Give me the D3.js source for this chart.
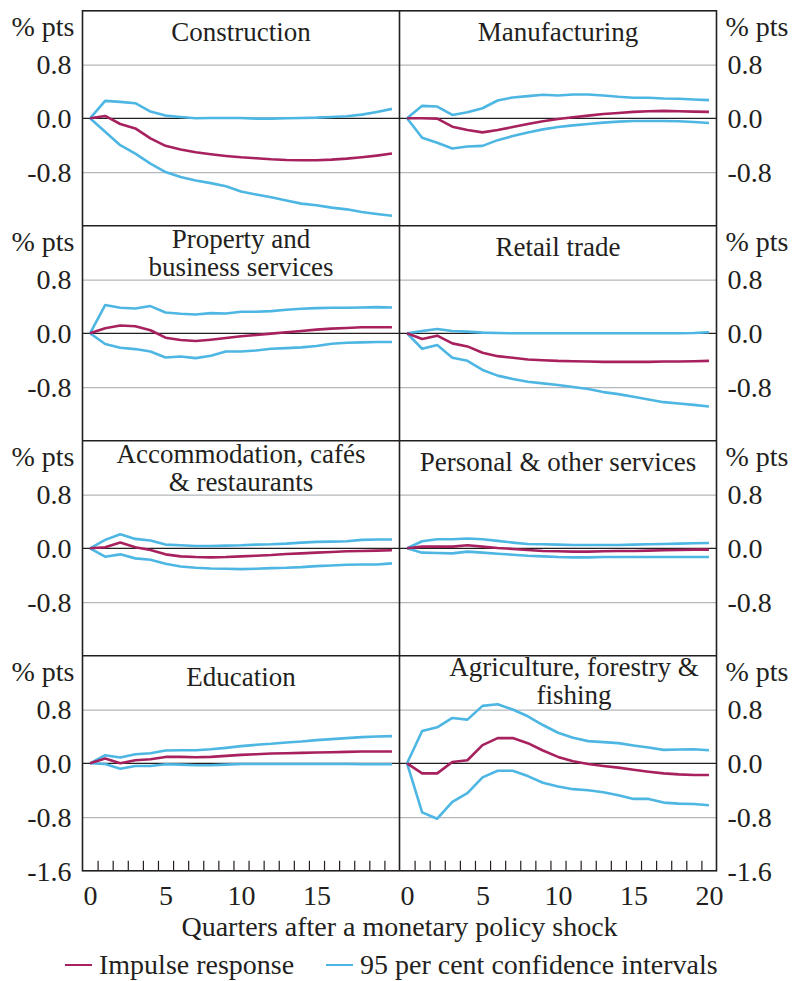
<!DOCTYPE html>
<html>
<head>
<meta charset="utf-8">
<script src="https://cdn.jsdelivr.net/npm/d3@7"></script>
<style>
  body { margin: 0; background: #fff; }
  text { font-family: "Liberation Serif", "Times New Roman", serif; fill: #231f20; }
  .axis .domain { display: none; }
</style>
</head>
<body>
<svg id="chart"></svg>
<script>
// quarters after the shock
const quarters = [0, 1, 2, 3, 4, 5, 6, 7, 8, 9, 10, 11, 12, 13, 14, 15, 16, 17, 18, 19, 20];

const constructionResp = [0, 0.035, -0.085, -0.15, -0.3, -0.41, -0.465, -0.505, -0.535, -0.56, -0.58, -0.595, -0.61, -0.62, -0.625, -0.625, -0.615, -0.6, -0.58, -0.555, -0.525];
const constructionLow = [0, -0.2, -0.4, -0.525, -0.675, -0.8, -0.875, -0.925, -0.965, -1.01, -1.09, -1.135, -1.175, -1.225, -1.27, -1.295, -1.33, -1.355, -1.395, -1.425, -1.45];
const constructionHigh = [0, 0.26, 0.245, 0.225, 0.1, 0.04, 0.02, 0, 0.005, 0.005, 0.005, -0.005, -0.005, 0, 0.005, 0.01, 0.02, 0.03, 0.055, 0.095, 0.14];

const manufacturingResp = [0, 0, -0.005, -0.125, -0.175, -0.21, -0.175, -0.13, -0.085, -0.045, -0.01, 0.015, 0.04, 0.065, 0.08, 0.095, 0.105, 0.11, 0.105, 0.1, 0.095];
const manufacturingLow = [0, -0.29, -0.365, -0.45, -0.42, -0.41, -0.325, -0.265, -0.21, -0.165, -0.13, -0.105, -0.085, -0.065, -0.05, -0.04, -0.04, -0.04, -0.045, -0.055, -0.07];
const manufacturingHigh = [0, 0.185, 0.175, 0.05, 0.09, 0.15, 0.265, 0.31, 0.33, 0.35, 0.34, 0.355, 0.355, 0.34, 0.32, 0.305, 0.305, 0.295, 0.29, 0.28, 0.27];

const propertyResp = [0, 0.075, 0.115, 0.105, 0.045, -0.065, -0.1, -0.115, -0.095, -0.07, -0.045, -0.025, -0.005, 0.015, 0.035, 0.055, 0.07, 0.08, 0.09, 0.09, 0.09];
const propertyLow = [0, -0.16, -0.215, -0.235, -0.27, -0.36, -0.345, -0.37, -0.335, -0.27, -0.27, -0.255, -0.23, -0.22, -0.21, -0.19, -0.155, -0.14, -0.135, -0.13, -0.13];
const propertyHigh = [0, 0.42, 0.38, 0.37, 0.405, 0.31, 0.29, 0.28, 0.3, 0.295, 0.32, 0.32, 0.33, 0.35, 0.365, 0.375, 0.38, 0.38, 0.385, 0.39, 0.385];

const retailResp = [0, -0.085, -0.035, -0.15, -0.195, -0.29, -0.34, -0.365, -0.39, -0.4, -0.41, -0.415, -0.42, -0.425, -0.425, -0.425, -0.425, -0.42, -0.42, -0.415, -0.41];
const retailLow = [0, -0.23, -0.175, -0.365, -0.41, -0.545, -0.63, -0.68, -0.72, -0.745, -0.77, -0.8, -0.83, -0.875, -0.905, -0.945, -0.985, -1.025, -1.045, -1.065, -1.09];
const retailHigh = [0, 0.035, 0.065, 0.035, 0.025, 0.01, 0.005, 0, 0, 0, 0, 0, 0, 0, 0, 0, 0, 0, 0, 0.005, 0.015];

const accommodationResp = [0, 0.015, 0.085, 0.015, -0.025, -0.09, -0.12, -0.13, -0.135, -0.13, -0.12, -0.11, -0.1, -0.085, -0.075, -0.065, -0.055, -0.045, -0.04, -0.035, -0.03];
const accommodationLow = [0, -0.125, -0.09, -0.15, -0.17, -0.23, -0.27, -0.29, -0.3, -0.305, -0.31, -0.305, -0.295, -0.29, -0.28, -0.265, -0.255, -0.245, -0.24, -0.24, -0.225];
const accommodationHigh = [0, 0.125, 0.21, 0.14, 0.115, 0.055, 0.045, 0.035, 0.035, 0.04, 0.045, 0.055, 0.06, 0.07, 0.085, 0.095, 0.1, 0.105, 0.125, 0.13, 0.13];

const personalResp = [0, 0.025, 0.025, 0.025, 0.045, 0.025, 0.005, -0.01, -0.025, -0.04, -0.045, -0.05, -0.05, -0.045, -0.04, -0.04, -0.035, -0.03, -0.025, -0.02, -0.02];
const personalLow = [0, -0.065, -0.07, -0.075, -0.05, -0.065, -0.08, -0.095, -0.11, -0.12, -0.13, -0.135, -0.135, -0.13, -0.13, -0.13, -0.13, -0.13, -0.13, -0.13, -0.13];
const personalHigh = [0, 0.105, 0.135, 0.135, 0.145, 0.135, 0.11, 0.085, 0.065, 0.06, 0.055, 0.05, 0.05, 0.05, 0.05, 0.055, 0.06, 0.065, 0.07, 0.075, 0.08];

const educationResp = [0, 0.07, 0, 0.045, 0.06, 0.095, 0.095, 0.09, 0.095, 0.11, 0.125, 0.135, 0.145, 0.15, 0.155, 0.16, 0.165, 0.17, 0.175, 0.175, 0.175];
const educationLow = [0, -0.01, -0.08, -0.04, -0.04, -0.015, -0.02, -0.03, -0.03, -0.02, -0.01, -0.01, -0.01, -0.01, -0.01, -0.01, -0.01, -0.01, -0.015, -0.015, -0.015];
const educationHigh = [0, 0.12, 0.085, 0.135, 0.15, 0.19, 0.195, 0.195, 0.21, 0.23, 0.255, 0.275, 0.29, 0.31, 0.325, 0.345, 0.36, 0.375, 0.39, 0.4, 0.405];

const agricultureResp = [0, -0.15, -0.15, 0.02, 0.045, 0.27, 0.375, 0.375, 0.3, 0.19, 0.095, 0.03, -0.01, -0.04, -0.065, -0.095, -0.125, -0.15, -0.165, -0.175, -0.175];
const agricultureLow = [0, -0.73, -0.825, -0.575, -0.445, -0.21, -0.11, -0.11, -0.19, -0.29, -0.345, -0.385, -0.4, -0.43, -0.475, -0.53, -0.53, -0.585, -0.6, -0.605, -0.625];
const agricultureHigh = [0, 0.48, 0.535, 0.675, 0.65, 0.855, 0.88, 0.8, 0.7, 0.57, 0.455, 0.38, 0.33, 0.315, 0.3, 0.265, 0.235, 0.2, 0.205, 0.21, 0.195];

const yTicks = [0.8, 0, -0.8];
const xTickLabelsLeft = [0, 5, 10, 15];
const xTickLabelsRight = [0, 5, 10, 15, 20];
const legendLabels = ['Impulse response', '95 per cent confidence intervals'];

const panels = [
  { title: ['Construction'], resp: constructionResp, low: constructionLow, high: constructionHigh },
  { title: ['Manufacturing'], resp: manufacturingResp, low: manufacturingLow, high: manufacturingHigh },
  { title: ['Property and', 'business services'], resp: propertyResp, low: propertyLow, high: propertyHigh },
  { title: ['Retail trade'], resp: retailResp, low: retailLow, high: retailHigh },
  { title: ['Accommodation, cafés', '& restaurants'], resp: accommodationResp, low: accommodationLow, high: accommodationHigh },
  { title: ['Personal & other services'], resp: personalResp, low: personalLow, high: personalHigh },
  { title: ['Education'], resp: educationResp, low: educationLow, high: educationHigh },
  { title: ['Agriculture, forestry &', 'fishing'], resp: agricultureResp, low: agricultureLow, high: agricultureHigh, shift: 16, top: 20 },
];

const width = 792;
const height = 981;
const frameLeft = 82.5;
const frameTop = 10.8;
const colW = 317;
const rowH = 215;
const fontSize = 28;
const titleSize = 27;

const respColour = '#a8215f';
const ciColour = '#4db6e3';
const gridColour = '#b3b7bb';

const svg = d3.select('#chart')
    .attr('width', width)
    .attr('height', height);

const fmt = (d) => d.toFixed(1);

panels.forEach((p, i) => {
    const col = i % 2;
    const row = Math.floor(i / 2);
    const x0 = frameLeft + col * colW;
    const y0 = frameTop + row * rowH;
    const isBottom = row === 3;

    const xScale = d3.scaleLinear().domain([-0.5, 20.5]).range([x0, x0 + colW]);
    const yScale = d3.scaleLinear().domain([-1.6, 1.6]).range([y0 + rowH, y0]);

    const g = svg.append('g');

    // gridlines
    g.append('g')
        .attr('class', 'axis')
        .attr('transform', `translate(${x0}, 0)`)
        .call(d3.axisRight(yScale).tickValues([0.8, -0.8]).tickSize(colW).tickFormat(''))
        .selectAll('line')
        .attr('stroke', gridColour)
        .attr('stroke-width', 1.3);

    g.append('line')
        .attr('x1', x0).attr('x2', x0 + colW)
        .attr('y1', yScale(0)).attr('y2', yScale(0))
        .attr('stroke', '#231f20')
        .attr('stroke-width', 1.3);

    // y labels
    const labelTicks = isBottom ? yTicks.concat([-1.6]) : yTicks;
    const yAxis = col === 0
        ? d3.axisLeft(yScale).tickPadding(11)
        : d3.axisRight(yScale).tickPadding(11);
    g.append('g')
        .attr('class', 'axis')
        .attr('transform', `translate(${col === 0 ? x0 : x0 + colW}, 0)`)
        .call(yAxis.tickValues(labelTicks).tickSize(0).tickFormat(fmt))
        .call((a) => a.selectAll('text')
            .attr('font-size', fontSize)
            .attr('dy', '0.33em')
            .style('font-family', '"Liberation Serif", serif')
            .attr('fill', '#231f20'));

    g.append('text')
        .attr('x', col === 0 ? x0 - 8 : x0 + colW + 9)
        .attr('y', y0 + 25)
        .attr('text-anchor', col === 0 ? 'end' : 'start')
        .attr('font-size', fontSize)
        .text('% pts');

    // title
    const title = g.append('text')
        .attr('text-anchor', 'middle')
        .attr('font-size', titleSize);
    p.title.forEach((line, k) => {
        title.append('tspan')
            .attr('x', x0 + colW / 2 + (p.shift || 0))
            .attr('y', y0 + (p.title.length === 1 ? 30 : (p.top || 22.5) + k * 28))
            .text(line);
    });

    // series
    const line = d3.line()
        .x((d, k) => xScale(quarters[k]))
        .y((d) => yScale(d));

    [p.high, p.low].forEach((s) => {
        g.append('path')
            .datum(s)
            .attr('d', line)
            .attr('fill', 'none')
            .attr('stroke', ciColour)
            .attr('stroke-width', 2.6)
            .attr('stroke-linejoin', 'round');
    });
    g.append('path')
        .datum(p.resp)
        .attr('d', line)
        .attr('fill', 'none')
        .attr('stroke', respColour)
        .attr('stroke-width', 2.6)
        .attr('stroke-linejoin', 'round');

    if (isBottom) {
        // tick marks between quarters
        g.append('g')
            .attr('class', 'axis')
            .attr('transform', `translate(0, ${y0 + rowH})`)
            .call(d3.axisTop(xScale).tickValues(quarters.slice(0, 20).map((q) => q + 0.5)).tickSize(10).tickFormat(''))
            .selectAll('line')
            .attr('stroke', '#231f20')
            .attr('stroke-width', 1.2);

        g.append('g')
            .attr('class', 'axis')
            .attr('transform', `translate(0, ${y0 + rowH})`)
            .call(d3.axisBottom(xScale)
                .tickValues(col === 0 ? xTickLabelsLeft : xTickLabelsRight)
                .tickSize(0).tickPadding(14).tickFormat(d3.format('d')))
            .call((a) => a.selectAll('text')
                .attr('font-size', fontSize)
                .style('font-family', '"Liberation Serif", serif')
                .attr('fill', '#231f20'));
    }
});

// frame
const frame = svg.append('g')
    .attr('fill', 'none')
    .attr('stroke', '#231f20')
    .attr('stroke-width', 1.6);
frame.append('rect')
    .attr('x', frameLeft).attr('y', frameTop)
    .attr('width', colW * 2).attr('height', rowH * 4);
frame.append('line')
    .attr('x1', frameLeft + colW).attr('x2', frameLeft + colW)
    .attr('y1', frameTop).attr('y2', frameTop + rowH * 4);
[1, 2, 3].forEach((r) => {
    frame.append('line')
        .attr('x1', frameLeft).attr('x2', frameLeft + colW * 2)
        .attr('y1', frameTop + r * rowH).attr('y2', frameTop + r * rowH);
});

svg.append('text')
    .attr('x', frameLeft + colW)
    .attr('y', 936)
    .attr('text-anchor', 'middle')
    .attr('font-size', fontSize)
    .text('Quarters after a monetary policy shock');

// legend
const legend = svg.append('g');
[[65, respColour], [326, ciColour]].forEach(([lx, colour], k) => {
    legend.append('line')
        .attr('x1', lx).attr('x2', lx + 27)
        .attr('y1', 965).attr('y2', 965)
        .attr('stroke', colour)
        .attr('stroke-width', 2);
    legend.append('text')
        .attr('x', lx + 34)
        .attr('y', 974)
        .attr('font-size', fontSize)
        .text(legendLabels[k]);
});
</script>
</body>
</html>
